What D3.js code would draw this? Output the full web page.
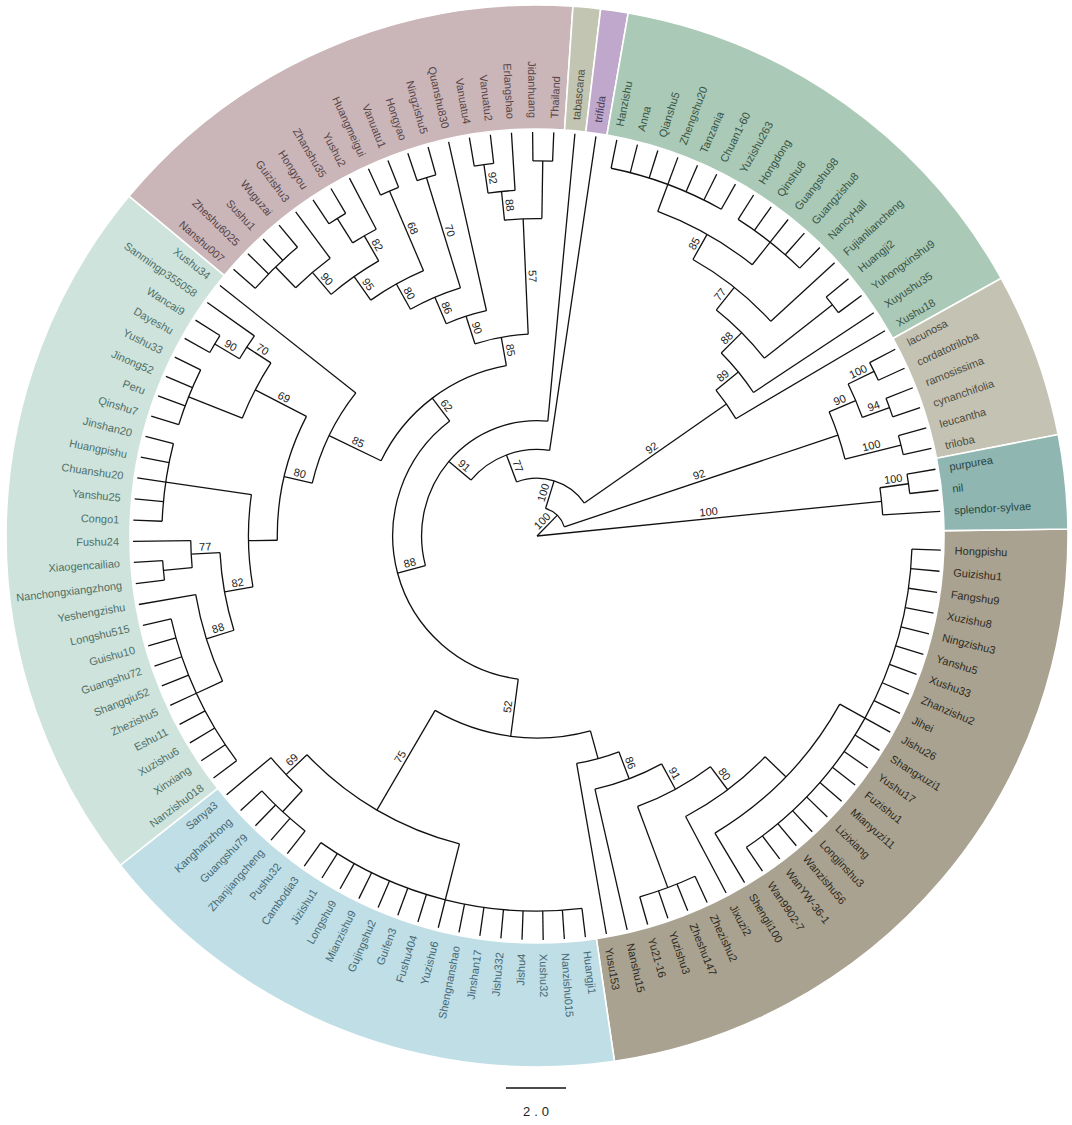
<!DOCTYPE html>
<html>
<head>
<meta charset="utf-8">
<script src="https://cdn.jsdelivr.net/npm/d3@7"></script>
<style>
body { margin: 0; background: #ffffff; }
</style>
</head>
<body>
<div class="tree"></div>
<script>
var w = 1072;
var h = 1125;
var cx = 537;
var cy = 536;

// tips, clockwise from 3 o'clock, with the clade each hangs from
var leaves = [
	["Hongpishu","Nbig"],["Guizishu1","Nbig"],["Fangshu9","Nbig"],["Xuzishu8","Nbig"],
	["Ningzishu3","Nbig"],["Yanshu5","Nbig"],["Xushu33","Nbig"],["Zhanzishu2","Nbig"],
	["Jihei","Nbig"],["Jishu26","Nbig"],["Shangxuzi1","Nbig"],["Yushu17","Nbig"],
	["Fuzishu1","Nbig"],["Mianyuzi11","Nbig"],["Lizixiang","Nbig"],["Longjinshu3","Nbig"],
	["Wanzishu56","Nbig"],["WanYW-36-1","Nbig"],["Wan9902-7","Nbig"],["Shengli100","Nq"],
	["Jixuzi2","N80b"],["Zhezishu2","Np"],["Zheshu147","Np"],["Yuzishu3","Np"],
	["Yu21-16","Np"],["Nanshu15","N86b"],["Yusu153","Nbr"],
	["Huangji1","Nbl"],["Nanzishu015","Nbl"],["Xushu32","Nbl"],["Jishu4","Nbl"],
	["Jishu332","Nbl"],["Jinshan17","Nbl"],["Shengnanshao","Nbl"],["Yuzishu6","Nbl"],
	["Fushu404","Nbl"],["Guifen3","Nbl"],["Gujingshu2","Nbl"],["Mianzishu9","Nbl"],
	["Longshu9","Nbl"],["Jizishu1","Nbl"],["Cambodia3","Nbl"],["Pushu32","K"],
	["Zhanjiangcheng","K"],["Guangshu79","K"],["Kanghanzhong","K"],["Sanya3","N69"],
	["Nanzishu018","LGc"],["Xinxiang","LGc"],["Xuzishu6","LGc"],["Eshu11","LGc"],
	["Zhezishu5","LGc"],["Shangqiu52","LGc"],["Guangshu72","LGc"],["Guishu10","LGc"],
	["Longshu515","LGc"],["Yeshengzishu","N88c"],["Nanchongxiangzhong","XN"],["Xiaogencailiao","XN"],
	["Fushu24","N77"],["Congo1","Nc"],["Yanshu25","Nc"],["Chuanshu20","Nc"],
	["Huangpishu","Nc"],["Jinshan20","Nc"],["Qinshu7","Nj"],["Peru","Nj"],
	["Jinong52","Nj"],["Yushu33","Nj"],["Dayeshu","N90c"],["Wancai9","N90c"],
	["Sanmingp355058","N70c"],["Xushu34","LG"],
	["Nanshu007","Na"],["Zheshu6025","Na"],["Sushu1","Na"],["Wuguzai","Na"],
	["Guizishu3","N90b"],["Hongyou","HZ"],["Zhanshu35","HZ"],["Yushu2","N82"],
	["Huangmeigui","N68"],["Vanuatu1","N68"],["Hongyao","N70"],["Ningzishu5","N70"],
	["Quanshu830","N90"],["Vanuatu4","N92"],["Vanuatu2","N92"],["Erlangshao","N88"],
	["Jidanhuang","JT"],["Thailand","JT"],
	["tabascana","D"],["trifida","C"],
	["Hanzishu","G5"],["Anna","G5"],["Qianshu5","G5"],["Zhengshu20","G5"],
	["Tanzania","G5"],["Chuan1-60","G5"],["Yuzishu263","G5"],["Hongdong","G6"],
	["Qinshu8","G6"],["Guangshu98","G6"],["Guangzishu8","G6"],["NancyHall","G6"],
	["Fujianliancheng","G3"],["Huangji2","P1"],["Yuhongxinshu9","P1"],["Xuyushu35","G1"],
	["Xushu18","G0"],
	["lacunosa","X1"],["cordatotriloba","X1"],["ramosissima","X2"],["cynanchifolia","X2"],
	["leucantha","W2"],["triloba","W2"],
	["purpurea","PN"],["nil","PN"],["splendor-sylvae","S"]
];

// inner clades: id, parent, bootstrap
var clades = [
	["root",null,null],["A","root",100],["S","root",100],["PN","S",100],
	["B","A",100],["W","A",92],["W1","W",90],["X1","W1",100],["X2","W1",94],["W2","W",100],
	["C","B",77],["G0","B",92],["G1","G0",89],["G2","G1",88],["G3","G2",77],
	["G4","G3",85],["G5","G4",null],["G6","G4",null],["P1","G2",null],
	["D","C",91],["E","D",88],["F","E",62],["H","E",52],["LG","F",85],["PK","F",85],
	["N80c","LG",80],["Ny","N80c",null],["N82c","Ny",82],["N88c","N82c",88],["LGc","N88c",null],
	["N77","N82c",77],["XN","N77",null],["Nc","Ny",null],["N69c","N80c",69],["Nj","N69c",null],
	["N70c","N69c",70],["N90c","N70c",90],
	["N90","PK",90],["N86","N90",86],["N80","N86",80],["N95","N80",95],["N90b","N95",90],
	["Na","N90b",null],["N82","N95",82],["HZ","N82",null],["N68","N80",68],["N70","N86",70],
	["N57","PK",57],["N88","N57",88],["N92","N88",92],["JT","N57",null],
	["N75","H",75],["Nbl","N75",null],["N69","N75",69],["K","N69",null],
	["Nbr","H",null],["N86b","Nbr",86],["N91","N86b",91],["N80b","N91",80],
	["Nq","N80b",null],["Nbig","Nq",null],["Np","N91",null]
];

// coloured ring: first and last tip of each group
var groups = [[0,26],[27,46],[47,72],[73,90],[91,91],[92,92],[93,109],[110,115],[116,118]];
var groupFill = ["#a9a290","#bfdee6","#cee3dc","#cab5b8","#c2c5b1","#bfa8cb","#aac9b6","#c4c3b3","#8fb6b1"];
var groupText = ["#2e2a22","#466874","#4f6f67","#574549","#4a4a3e","#4a3a56","#385446","#4b4a3e","#274542"];
var scaleBarValue = 2.0;

var svg = d3.select(".tree")
	.append("svg")
	.attr("width", w)
	.attr("height", h)
	.style("background", "#ffffff");

var rows = clades.map(function(c){ return {id: c[0], parentId: c[1], support: c[2]}; })
	.concat(leaves.map(function(l, i){ return {id: l[0], parentId: l[1], idx: i}; }));

var root = d3.stratify()(rows);
root.eachAfter(function(n){
	n.first = n.data.idx != null ? n.data.idx : d3.min(n.children, function(c){ return c.first; });
});
root.sort(function(a, b){ return a.first - b.first; });
// cluster leaves sit at 0.5 .. n-0.5
d3.cluster().size([leaves.length, 1]).separation(function(){ return 1; })(root);

var ang = d3.scaleLinear().domain([0.5, leaves.length - 0.5]).range([2, 356.5]);
var rad = d3.scaleLinear().domain([root.height, 0]).range([0, 404]);

function polar(r, deg){
	var a = deg * Math.PI / 180;
	return [cx + r * Math.cos(a), cy + r * Math.sin(a)];
}

// ring
var tips = root.leaves().sort(function(a, b){ return a.data.idx - b.data.idx; });
var la = tips.map(function(t){ return ang(t.x); });
var n = la.length;
function before(i){ return i == 0 ? (la[n-1] - 360 + la[0]) / 2 : (la[i-1] + la[i]) / 2; }
function after(i){ return i == n-1 ? (la[n-1] + la[0] + 360) / 2 : (la[i] + la[i+1]) / 2; }

var ring = d3.arc().innerRadius(407).outerRadius(531);
svg.append("g")
	.attr("transform", "translate(" + cx + "," + cy + ")")
	.selectAll("path")
	.data(groups)
	.enter()
	.append("path")
	.attr("d", function(g){
		return ring({startAngle: (before(g[0]) + 90) * Math.PI / 180,
			endAngle: (after(g[1]) + 90) * Math.PI / 180});
	})
	.attr("fill", function(g, i){ return groupFill[i]; })
	.attr("stroke", "#ffffff")
	.attr("stroke-width", 1.6);

// branches
var tree = svg.append("g")
	.attr("fill", "none")
	.attr("stroke", "#111111")
	.attr("stroke-width", 1.3);

root.descendants().forEach(function(d){
	var t = ang(d.x);
	if (d.parent) {
		var p0 = polar(rad(d.parent.height), t);
		var p1 = polar(rad(d.height), t);
		tree.append("line")
			.attr("x1", p0[0]).attr("y1", p0[1])
			.attr("x2", p1[0]).attr("y2", p1[1]);
	}
	if (d.children && rad(d.height) > 0) {
		var r = rad(d.height);
		var a0 = ang(d.children[0].x);
		var a1 = ang(d.children[d.children.length - 1].x);
		var s = polar(r, a0), e = polar(r, a1);
		tree.append("path")
			.attr("d", "M" + s[0] + "," + s[1] + "A" + r + "," + r + " 0 " + (a1 - a0 > 180 ? 1 : 0) + " 1 " + e[0] + "," + e[1]);
	}
});

function flip(t){
	var a = ((t % 360) + 360) % 360;
	return a > 90 && a < 270;
}

// bootstrap values, halfway along each branch
svg.append("g")
	.selectAll("text")
	.data(root.descendants().filter(function(d){ return d.parent && d.data.support != null; }))
	.enter()
	.append("text")
	.attr("transform", function(d){
		var t = ang(d.x);
		var rm = (rad(d.parent.height) + rad(d.height)) / 2;
		return "translate(" + cx + "," + cy + ") rotate(" + t + ") translate(" + rm + ",0)" + (flip(t) ? " rotate(180)" : "");
	})
	.attr("dy", -3)
	.attr("text-anchor", "middle")
	.attr("font-family", "Arial, 'Liberation Sans', sans-serif")
	.attr("font-size", 11)
	.attr("fill", "#222222")
	.text(function(d){ return d.data.support; });

// tip labels
function groupOf(i){
	for (var k = 0; k < groups.length; k++) if (i >= groups[k][0] && i <= groups[k][1]) return k;
	return 0;
}

svg.append("g")
	.selectAll("text")
	.data(tips)
	.enter()
	.append("text")
	.attr("transform", function(d){
		var t = ang(d.x);
		return "translate(" + cx + "," + cy + ") rotate(" + t + ") translate(418,0)" + (flip(t) ? " rotate(180)" : "");
	})
	.attr("dy", "0.35em")
	.attr("text-anchor", function(d){ return flip(ang(d.x)) ? "end" : "start"; })
	.attr("font-family", "Arial, 'Liberation Sans', sans-serif")
	.attr("font-size", 11)
	.attr("fill", function(d){ return groupText[groupOf(d.data.idx)]; })
	.text(function(d){ return d.id; });

// scale bar
svg.append("line")
	.attr("x1", 506)
	.attr("y1", 1088)
	.attr("x2", 566)
	.attr("y2", 1088)
	.attr("stroke", "#111111")
	.attr("stroke-width", 1.5);

svg.append("text")
	.attr("x", 538)
	.attr("y", 1116)
	.attr("text-anchor", "middle")
	.attr("font-family", "Arial, 'Liberation Sans', sans-serif")
	.attr("font-size", 13)
	.attr("letter-spacing", "4px")
	.attr("fill", "#222222")
	.text(scaleBarValue.toFixed(1));
</script>
</body>
</html>
